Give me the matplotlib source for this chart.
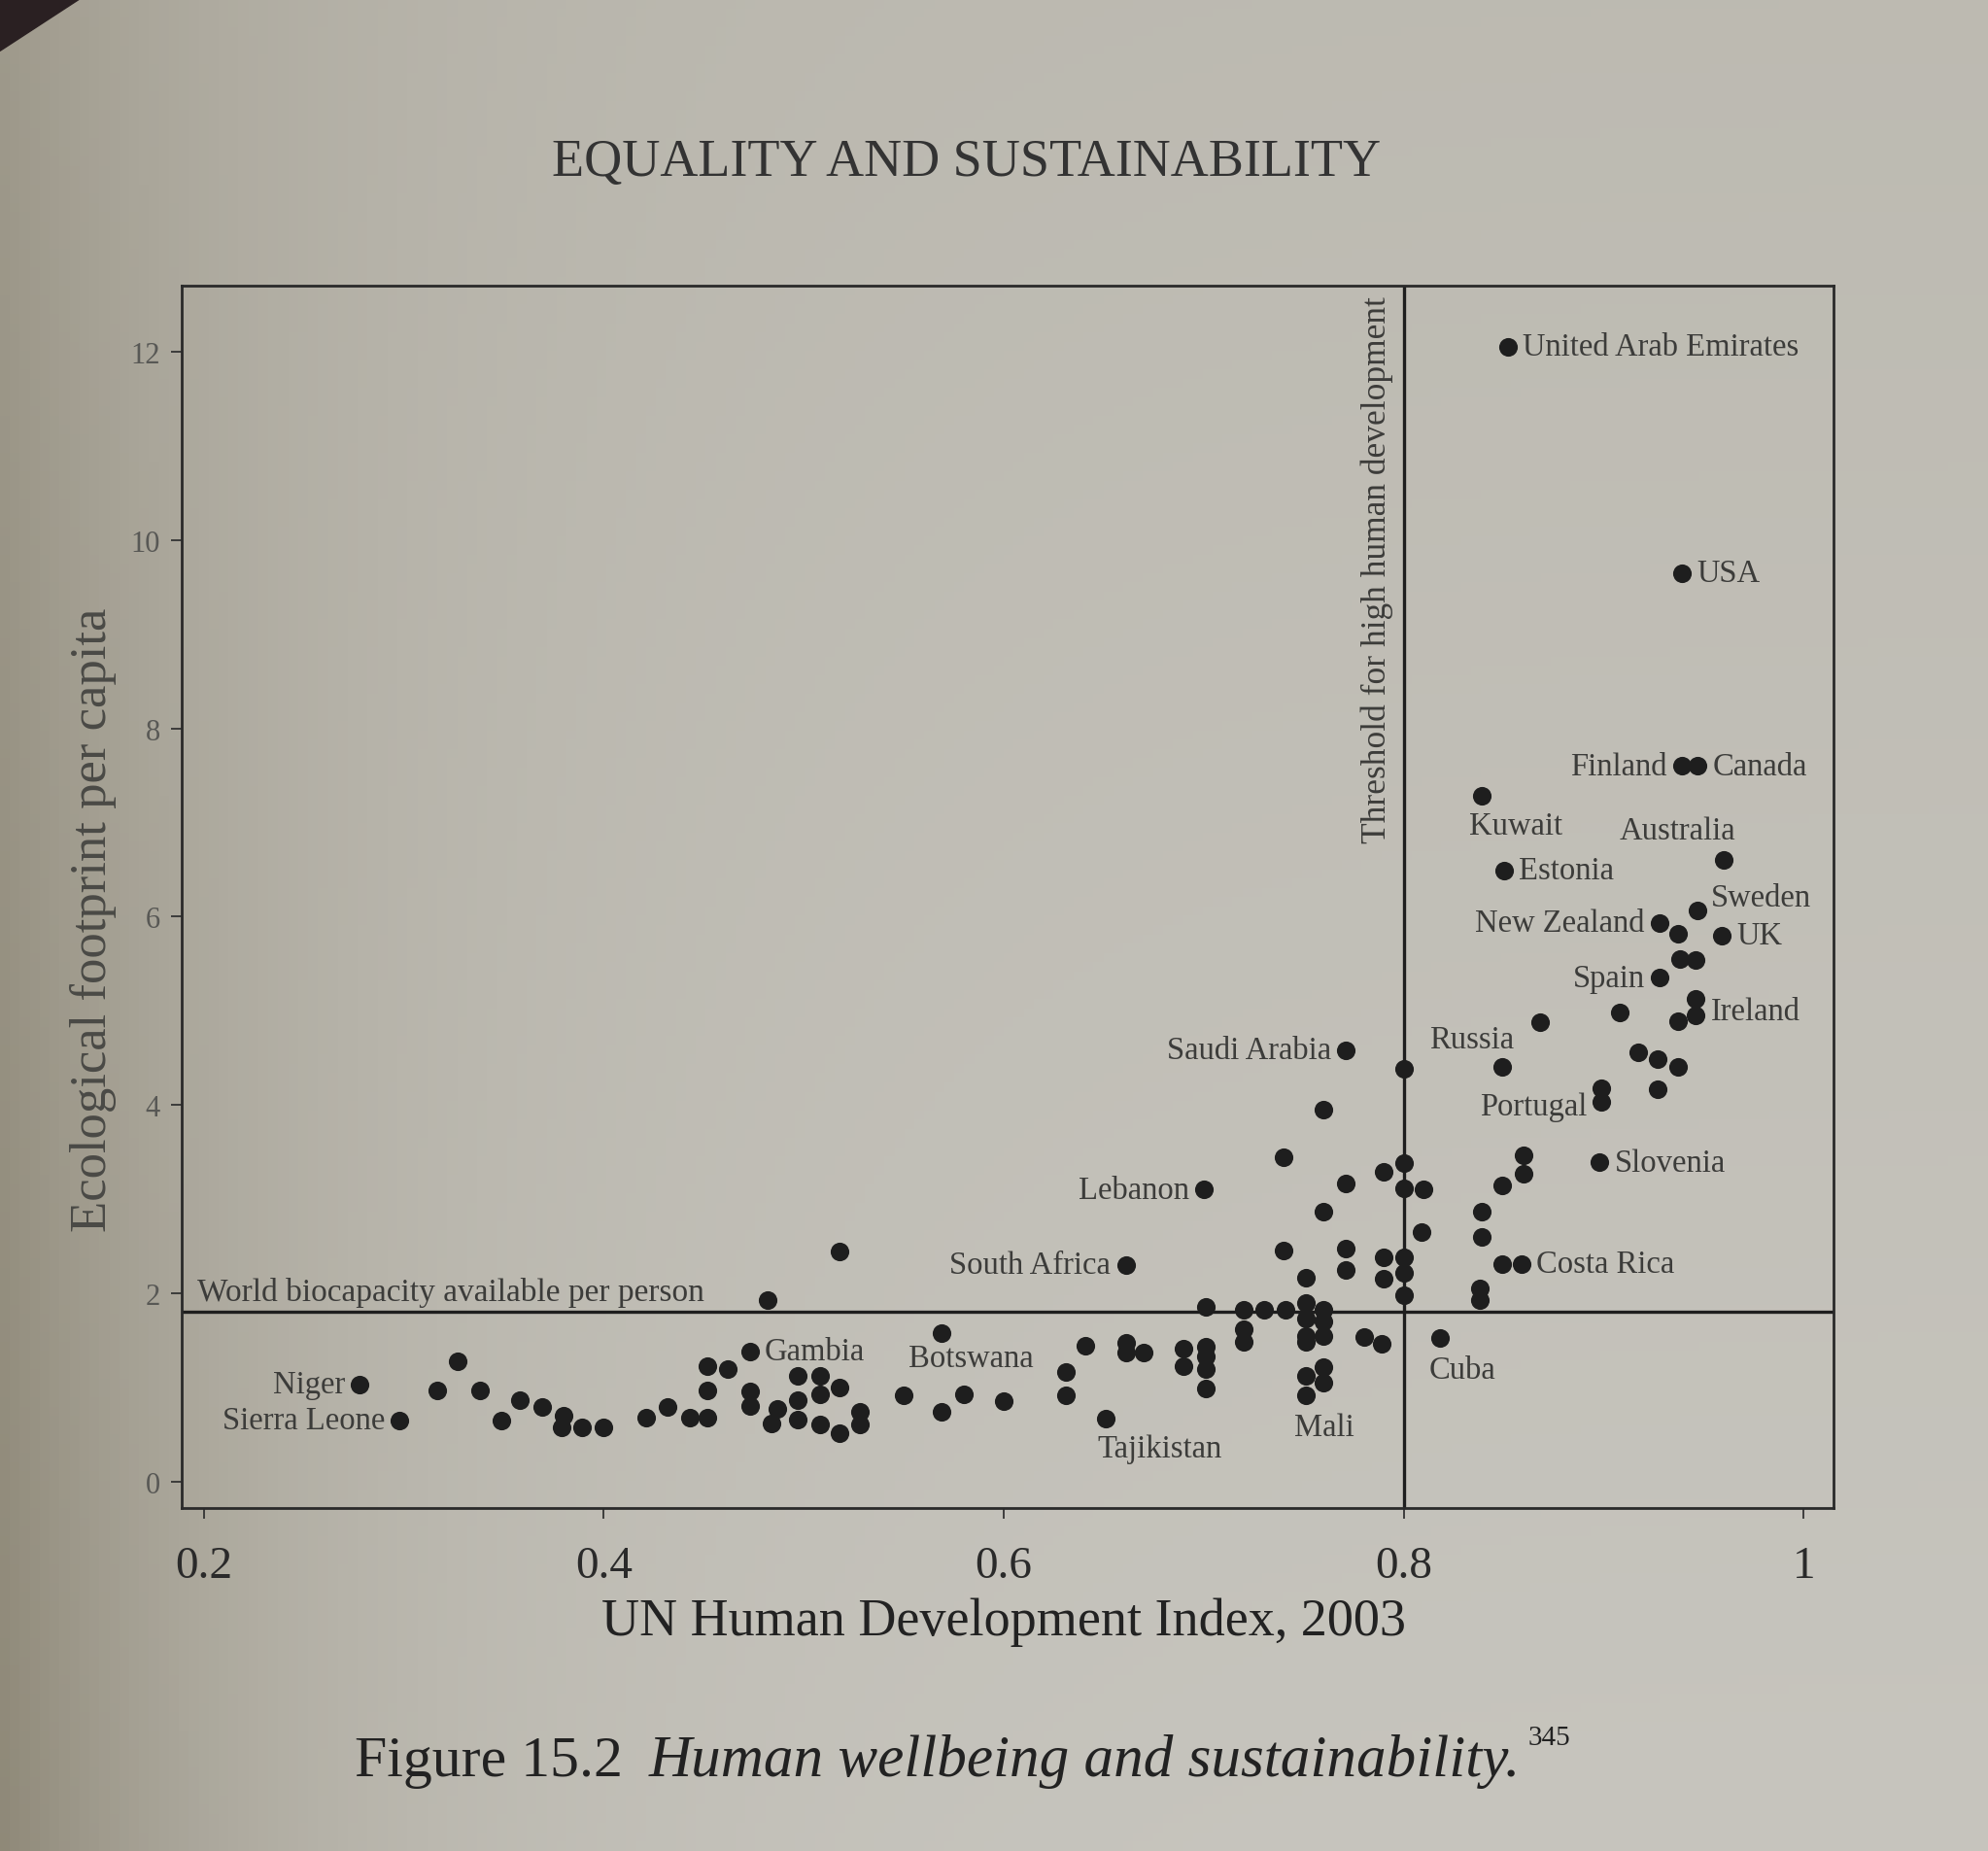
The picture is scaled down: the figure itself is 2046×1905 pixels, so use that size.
import numpy as np
import matplotlib.pyplot as plt
from matplotlib.patches import Polygon

plt.rcParams['font.family'] = ['Liberation Serif', 'DejaVu Serif']

# labelled countries: HDI 2003 and ecological footprint per capita
label_names = ["United Arab Emirates", "USA", "Finland", "Canada", "Kuwait",
               "Australia", "Estonia", "Sweden", "New Zealand", "UK", "Spain",
               "Ireland", "Russia", "Portugal", "Saudi Arabia", "Slovenia",
               "Lebanon", "Costa Rica", "South Africa", "Cuba", "Botswana",
               "Gambia", "Tajikistan", "Mali", "Niger", "Sierra Leone"]
label_hdi = [0.852, 0.939, 0.939, 0.947, 0.839, 0.960, 0.850, 0.947, 0.928,
             0.959, 0.928, 0.946, 0.849, 0.899, 0.771, 0.898, 0.700, 0.859,
             0.661, 0.818, 0.569, 0.473, 0.651, 0.751, 0.278, 0.298]
label_fp = [12.05, 9.65, 7.60, 7.60, 7.28, 6.60, 6.49, 6.07, 5.93, 5.80, 5.35,
            4.95, 4.40, 4.03, 4.58, 3.39, 3.10, 2.31, 2.30, 1.53, 1.58, 1.38,
            0.67, 0.92, 1.03, 0.65]

# the other (unlabelled) countries
other_hdi = [0.317, 0.327, 0.338, 0.349, 0.358, 0.369, 0.380, 0.379, 0.389, 0.400,
             0.421, 0.432, 0.443, 0.452, 0.452, 0.452, 0.462, 0.473, 0.473, 0.484,
             0.482, 0.487, 0.497, 0.508, 0.518, 0.508, 0.497, 0.497, 0.508, 0.518,
             0.528, 0.528, 0.518, 0.550, 0.569, 0.580, 0.600, 0.631, 0.631, 0.641,
             0.661, 0.661, 0.670, 0.690, 0.690, 0.701, 0.701, 0.701, 0.701, 0.701,
             0.720, 0.730, 0.741, 0.751, 0.760, 0.720, 0.720, 0.751, 0.760, 0.751,
             0.760, 0.751, 0.780, 0.789, 0.760, 0.751, 0.760,
             0.740, 0.771, 0.771, 0.751, 0.790, 0.800, 0.790, 0.800, 0.800, 0.809,
             0.740, 0.760, 0.800, 0.771, 0.760, 0.790, 0.800, 0.800, 0.810,
             0.838, 0.838, 0.849, 0.839, 0.839, 0.849, 0.860, 0.860, 0.868, 0.899,
             0.908, 0.917, 0.927, 0.937, 0.927, 0.946, 0.937, 0.938, 0.946, 0.937]
other_fp = [0.97, 1.28, 0.97, 0.65, 0.87, 0.79, 0.70, 0.58, 0.58, 0.58,
            0.68, 0.79, 0.68, 0.68, 0.97, 1.23, 1.20, 0.96, 0.80, 0.62,
            1.93, 0.77, 1.12, 1.12, 1.00, 0.93, 0.87, 0.66, 0.61, 0.51,
            0.74, 0.61, 2.44, 0.92, 0.74, 0.93, 0.85, 1.16, 0.92, 1.44,
            1.47, 1.37, 1.37, 1.41, 1.23, 1.43, 1.33, 1.20, 0.99, 1.86,
            1.83, 1.83, 1.83, 1.90, 1.83, 1.62, 1.48, 1.73, 1.70, 1.55,
            1.55, 1.48, 1.54, 1.46, 1.22, 1.12, 1.05,
            2.45, 2.48, 2.25, 2.17, 2.38, 2.38, 2.16, 2.22, 1.98, 2.65,
            3.45, 3.95, 4.38, 3.17, 2.87, 3.29, 3.38, 3.11, 3.10,
            2.05, 1.93, 2.31, 2.87, 2.60, 3.15, 3.27, 3.47, 4.88, 4.18,
            4.98, 4.56, 4.49, 4.40, 4.17, 5.13, 4.89, 5.55, 5.54, 5.82]

biocapacity = 1.8
threshold = 0.8
x_ticks = [0.2, 0.4, 0.6, 0.8, 1.0]
x_tick_labels = ["0.2", "0.4", "0.6", "0.8", "1"]
y_ticks = [0, 2, 4, 6, 8, 10, 12]

# where each label sits relative to its dot (points)
R = (11, 0, 'left', 'center')
L = (-11, 0, 'right', 'center')
label_pos = {
    "United Arab Emirates": R, "USA": R, "Finland": L, "Canada": R,
    "Kuwait": (25, -22, 'center', 'center'),
    "Australia": (-34, 22, 'center', 'center'),
    "Estonia": R, "Sweden": (10, 9, 'left', 'center'),
    "New Zealand": L, "UK": R, "Spain": L, "Ireland": (11, 3, 'left', 'center'),
    "Russia": (-22, 21, 'center', 'center'),
    "Portugal": (-11, -3, 'right', 'center'),
    "Saudi Arabia": L, "Slovenia": R, "Lebanon": L, "Costa Rica": R,
    "South Africa": L, "Cuba": (17, -24, 'center', 'center'),
    "Botswana": (22, -19, 'center', 'center'), "Gambia": R,
    "Tajikistan": (40, -22, 'center', 'center'),
    "Mali": (14, -24, 'center', 'center'), "Niger": L, "Sierra Leone": L,
}

ink = '#1e1e1e'
grey = '#3c3c3a'

fig = plt.figure(figsize=(20.46, 19.06), dpi=100)

# photographed paper: warm grey, darker towards the lower left
bg = fig.add_axes([0, 0, 1, 1], zorder=-10)
yy, xx = np.mgrid[0:1:200j, 0:1:200j]
d = 0.28 * np.exp(-xx / 0.14) * (0.55 + 0.45 * yy) + 0.05 * (1 - yy)
paper = np.dstack([199 * (1 - d), 197 * (1 - 1.08 * d), 190 * (1 - 1.3 * d)]) / 255
bg.imshow(np.clip(paper, 0, 1), extent=[0, 1, 0, 1], aspect='auto', origin='upper')
bg.set_xlim(0, 1)
bg.set_ylim(0, 1)
bg.axis('off')
bg.add_patch(Polygon([[0, 1], [0.04, 1], [0, 0.972]], closed=True,
                     color='#2a2022', transform=bg.transAxes))

ax = fig.add_axes([0.0914, 0.1852, 0.831, 0.660])
ax.set_facecolor('none')
ax.set_xlim(0.189, 1.015)
ax.set_ylim(-0.28, 12.7)

ax.axhline(biocapacity, color=ink, lw=2.4, zorder=2)
ax.axvline(threshold, color=ink, lw=2.4, zorder=2)

ax.scatter(other_hdi, other_fp, s=190, color=ink, linewidths=0, zorder=3)
ax.scatter(label_hdi, label_fp, s=190, color=ink, linewidths=0, zorder=3)

for name, x, y in zip(label_names, label_hdi, label_fp):
    dx, dy, ha, va = label_pos[name]
    ax.annotate(name, (x, y), xytext=(dx, dy), textcoords='offset points',
                ha=ha, va=va, fontsize=23.5, color=grey)

ax.annotate("World biocapacity available per person", (0.197, biocapacity),
            xytext=(0, 4), textcoords='offset points', ha='left', va='bottom',
            fontsize=24, color=grey)
ax.annotate("Threshold for high human development", (threshold, 12.6),
            xytext=(-8, 0), textcoords='offset points', rotation=90,
            ha='right', va='top', fontsize=25.5, color=grey)

for s in ax.spines.values():
    s.set_linewidth(2.0)
    s.set_color('#2a2a2a')

ax.set_xticks(x_ticks)
ax.set_xticklabels(x_tick_labels)
ax.set_yticks(y_ticks)
ax.tick_params(direction='out', length=8, width=1.3, color='#333333')
ax.tick_params(axis='x', labelsize=34, pad=20, labelcolor='#2a2a2a')
ax.tick_params(axis='y', labelsize=22, pad=8, labelcolor='#585855')

fig.text(0.486, 0.912, "EQUALITY AND SUSTAINABILITY", ha='center', va='center',
         fontsize=39, color='#333333')
fig.text(0.505, 0.124, "UN Human Development Index, 2003", ha='center',
         va='center', fontsize=39, color='#222222')
fig.text(0.047, 0.503, "Ecological footprint per capita", ha='center',
         va='center', rotation=90, fontsize=38, color='#4a4a46')

# caption: upright figure number, italic title, superscript note
fig.canvas.draw()
r = fig.canvas.get_renderer()
cap_y = 1 - 1828 / 1906
t1 = fig.text(365 / 2046, cap_y, "Figure 15.2", ha='left', va='baseline',
              fontsize=43, color='#222222')
x1 = t1.get_window_extent(r).x1 / fig.bbox.width
t2 = fig.text(x1 + 0.013, cap_y, "Human wellbeing and sustainability.",
              ha='left', va='baseline', fontsize=44, style='italic',
              color='#222222')
x2 = t2.get_window_extent(r).x1 / fig.bbox.width
fig.text(x2 + 0.004, cap_y + 0.017, "345", ha='left', va='baseline',
         fontsize=21, color='#222222')

fig.savefig('out.png', dpi=100)
